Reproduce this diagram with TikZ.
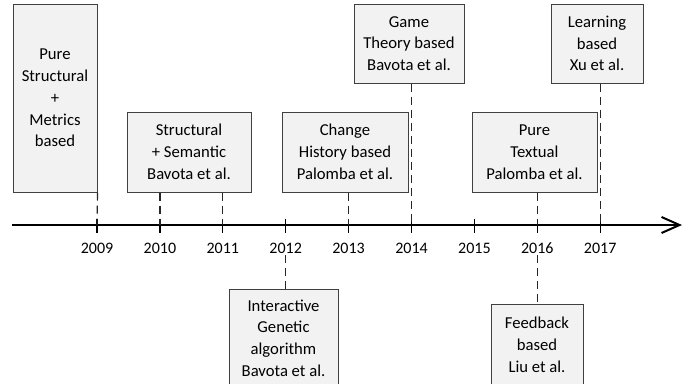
\documentclass[tikz,border=0pt]{standalone}
\usepackage{fontspec}
\setmainfont{Carlito}
\usetikzlibrary{arrows.meta,positioning}

\begin{document}
\begin{tikzpicture}[
  x=0.75pt, y=-0.75pt,
  >={Straight Barb[length=13.5pt, width=12pt]},
  every node/.style={font=\fontsize{12.5}{16.3}\selectfont, align=center},
  event/.style={draw=black!75, line width=0.75pt, fill=black!5, inner sep=0pt},
  year/.style={font=\fontsize{12}{14}\selectfont, inner sep=1pt},
  timeline/.style={->, line width=1.5pt},
  yeartick/.style={line width=1pt},
  guide/.style={dash pattern=on 6pt off 3.8pt, line width=0.9pt, black!85}
]
\clip (0,0) rectangle (690,383);

% time axis with the years
\draw[timeline] (12,225) coordinate (start) -- (682,225) coordinate (end);
\foreach \yr [count=\i from 0] in {2009,...,2017} {
  \coordinate (t\yr) at (97+62.9*\i,225);
  \draw[yeartick] (97+62.9*\i,219) -- (97+62.9*\i,233);
  \node[year] (l\yr) at (97+62.9*\i,248) {\yr};
}

% approaches above the axis
\node[event, minimum width=63pt, minimum height=141pt] (metrics) at (55,98) {Pure\\Structural\\+\\Metrics\\based};
\node[event, minimum width=93pt, minimum height=60pt] (sem) at (189,152) {Structural\\+ Semantic\\Bavota et al.};
\node[event, minimum width=94.5pt, minimum height=60pt] (hist) at (345,152) {Change\\History based\\Palomba et al.};
\node[event, minimum width=82.5pt, minimum height=59.25pt] (game) at (409,43.5) {Game\\Theory based\\Bavota et al.};
\node[event, minimum width=93.75pt, minimum height=60pt] (text) at (534.5,152) {Pure\\Textual\\Palomba et al.};
\node[event, minimum width=69pt, minimum height=59.25pt] (learn) at (597,43.5) {Learning\\based\\Xu et al.};

% approaches below the axis
\node[event, minimum width=81.75pt, minimum height=73.5pt] (inter) at (283.5,338) {Interactive\\Genetic\\algorithm\\Bavota et al.};
\node[event, minimum width=69pt, minimum height=61.5pt] (feed) at (537,345) {Feedback\\based\\Liu et al.};

\draw[guide] (metrics.south east) -- (t2009);
\draw[guide] (t2010 |- sem.south) -- (t2010);
\draw[guide] (t2011 |- sem.south) -- (t2011);
\draw[guide] (t2013 |- hist.south) -- (t2013);
\draw[guide] (t2014 |- game.south) -- (t2014);
\draw[guide] (t2016 |- text.south) -- (t2016);
\draw[guide] (t2017 |- learn.south) -- (t2017);
\draw[guide] (l2012.south) -- (l2012.south |- inter.north);
\draw[guide] (l2016.south) -- (l2016.south |- feed.north);
\end{tikzpicture}
\end{document}
